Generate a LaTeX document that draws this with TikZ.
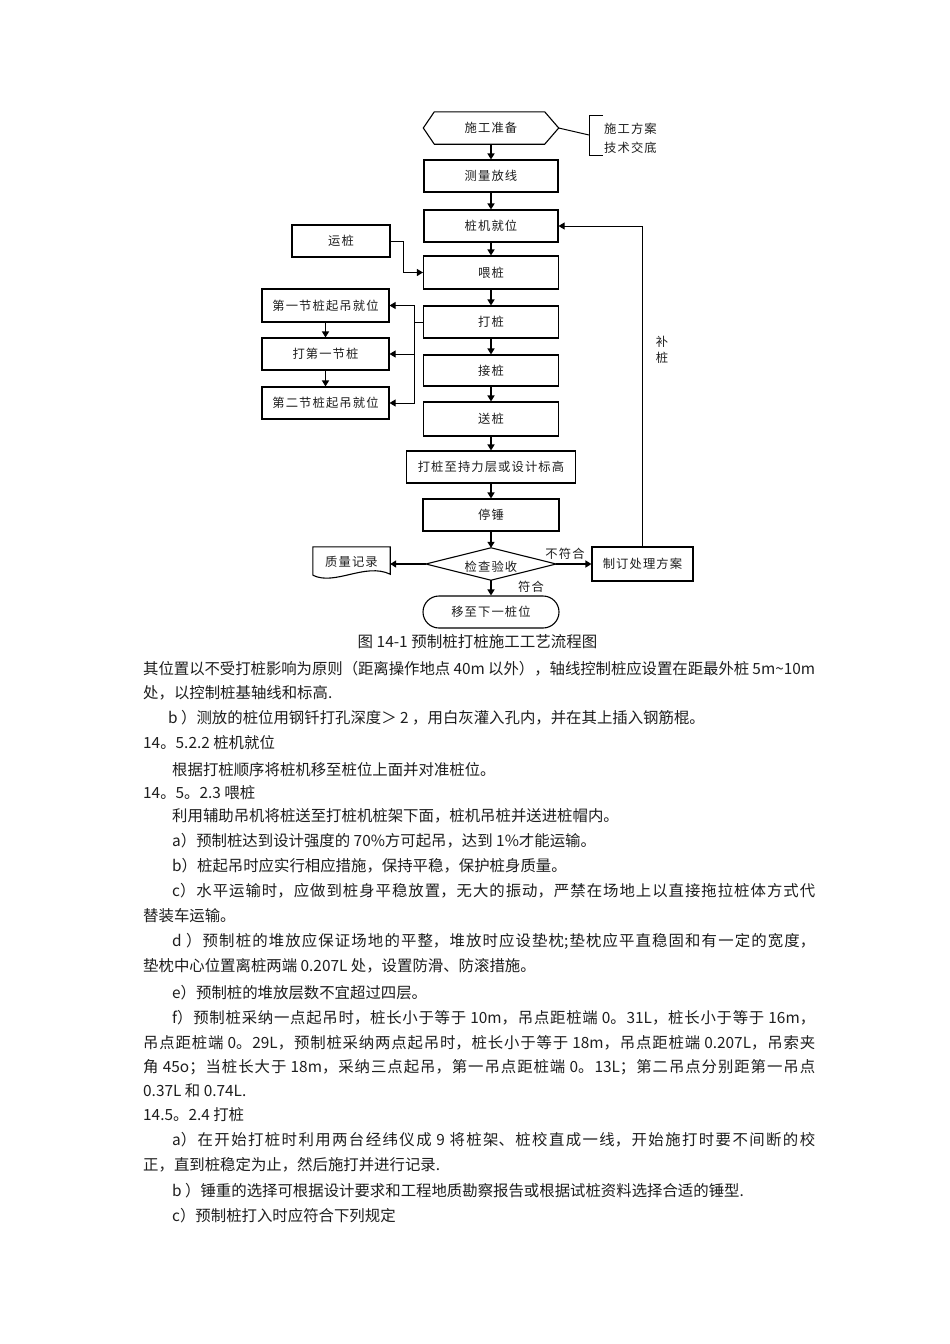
\documentclass[tikz,border=0pt]{standalone}
\usepackage{fontspec}
\setmainfont{Noto Sans CJK SC}
\newfontfamily\fcfam[LetterSpace=9]{Noto Sans CJK SC}
\usetikzlibrary{arrows.meta}
\definecolor{ink}{HTML}{1E1E1E}
\newcommand\fcf{\fcfam\fontsize{12.3}{14}\selectfont}
\newcommand\bodyf{\fontsize{15.4}{18}\selectfont}
\newcommand\jline[3]{\node[body,anchor=base west] at (#1,#2+6) {\parbox[t]{\dimexpr 815pt-#1pt\relax}{\XeTeXlinebreaklocale "zh"\XeTeXlinebreakskip=0pt plus 2pt minus 0.3pt\tolerance=10000\parfillskip=0pt\relax #3}};}
\newcommand\pline[3]{\node[body,anchor=base west] at (#1,#2+6) {#3};}
\begin{document}
\begin{tikzpicture}[x=1pt,y=-1pt,
  box/.style={draw=black,line width=1.1pt,minimum height=32,inner sep=0,font=\fcf,text=ink},
  ghost/.style={minimum height=32,inner sep=0,font=\fcf,text=ink},
  arr/.style={line width=1.5pt,-{Triangle[length=6pt,width=7pt]}},
  tarr/.style={line width=1pt,-{Triangle[length=6pt,width=7pt]}},
  thin/.style={line width=1pt},
  lbl/.style={inner sep=0,font=\fcf,text=ink},
  body/.style={inner sep=0,font=\bodyf,text=ink}]
\useasboundingbox (0,0) rectangle (950,1344);
\fill[white] (0,0) rectangle (950,1344);

% ---------- flowchart nodes ----------
\node[ghost,minimum width=135] (prep) at (491,128) {施工准备};
\draw[line width=1.1pt] (prep.west) -- ([xshift=11]prep.north west) -- ([xshift=-14]prep.north east) -- (prep.east) -- ([xshift=-14]prep.south east) -- ([xshift=11]prep.south west) -- cycle;

\node[lbl,anchor=west] (n1) at (604,129) {施工方案};
\node[lbl,anchor=west] (n2) at (604,148) {技术交底};
\coordinate (bm) at (589,135);
\coordinate (bt) at (589,115);
\coordinate (bb) at (589,155);
\coordinate (btt) at (603,115);
\coordinate (bbt) at (603,155);
\draw[thin] (prep.east) -- (bm);
\draw[thin] (btt) -- (bt) -- (bb) -- (bbt);

\node[box,minimum width=134] (survey) at (491,176) {测量放线};
\node[box,minimum width=134] (pos) at (491,226) {桩机就位};
\node[box,minimum width=135,minimum height=33] (feed) at (491,272.5) {喂桩};
\node[box,minimum width=135] (drive) at (491,322) {打桩};
\node[box,minimum width=135,minimum height=31] (joint) at (491,370.5) {接桩};
\node[box,minimum width=135,minimum height=34] (send) at (491,419) {送桩};
\node[box,minimum width=169] (target) at (491,467) {打桩至持力层或设计标高};
\node[box,minimum width=136] (stop) at (491,515) {停锤};
\node[minimum height=32,minimum width=130,inner sep=0] (chk) at (491,564) {};
\draw[line width=1.1pt] (chk.west) -- (chk.north) -- (chk.east) -- (chk.south) -- cycle;
\node[lbl] (chkt) at (491,567) {检查验收};
\node[box,minimum width=136,rounded corners=16] (move) at (491,612) {移至下一桩位};

\node[box,minimum width=98] (yun) at (341,241) {运桩};
\node[box,minimum width=127,minimum height=33] (L1) at (325.5,305.5) {第一节桩起吊就位};
\node[box,minimum width=127] (L2) at (325.5,354) {打第一节桩};
\node[box,minimum width=127] (L3) at (325.5,403) {第二节桩起吊就位};

\node[ghost,minimum width=77,minimum height=30] (qc) at (351.5,562) {质量记录};
\draw[line width=1.1pt] ([yshift=2]qc.south west) -- (qc.north west) -- (qc.north east) -- ([yshift=3]qc.south east)
  .. controls ([xshift=-25,yshift=15]qc.south east) and ([xshift=22,yshift=-9]qc.south west) .. ([yshift=2]qc.south west);

\node[box,minimum width=101,minimum height=34] (plan) at (642.5,564) {制订处理方案};

% ---------- connectors ----------
\draw[arr] (prep) -- (survey);
\draw[arr] (survey) -- (pos);
\draw[arr] (pos) -- (feed);
\draw[arr] (feed) -- (drive);
\draw[arr] (drive) -- (joint);
\draw[arr] (joint) -- (send);
\draw[arr] (send) -- (target);
\draw[arr] (target) -- (stop);
\draw[arr] (stop) -- (chk.north);
\draw[arr] (chk.south) -- (move);
\draw[arr] (chk.west) -- (chk.west -| qc.east);
\draw[arr] (chk.east) -- (plan.west);
\draw[tarr] (plan.north) |- (pos.east);
\draw[tarr] (yun.east) -- ++(13,0) |- (feed.west);
\draw[thin] (drive.west) -- ++(-8,0) coordinate (br);
\draw[tarr] (br) |- (L1.east);
\draw[tarr] (br) |- (L3.east);
\draw[tarr] (br |- L2.east) -- (L2.east);
\draw[arr] (L1) -- (L2);
\draw[arr] (L2) -- (L3);

\node[lbl] (nf) at (565,554) {不符合};
\node[lbl] (ok) at (531,587) {符合};
\node[lbl] (bu1) at (662,342) {补};
\node[lbl] (bu2) at (662,358) {桩};

\node[inner sep=0,text=ink,font=\fontsize{15.5}{18}\selectfont] (cap) at (477.5,642) {图 14-1 预制桩打桩施工工艺流程图};

% ---------- body text ----------
\jline{143}{668}{其位置以不受打桩影响为原则（距离操作地点 40m 以外），轴线控制桩应设置在距最外桩 5m\textasciitilde 10m}
\pline{143}{692}{处，以控制桩基轴线和标高.}
\pline{168}{717}{b ）测放的桩位用钢钎打孔深度＞ 2 ，用白灰灌入孔内，并在其上插入钢筋棍。}
\pline{143}{742}{14。5.2.2 桩机就位}
\pline{172}{769}{根据打桩顺序将桩机移至桩位上面并对准桩位。}
\pline{143}{792}{14。5。2.3 喂桩}
\pline{172}{815}{利用辅助吊机将桩送至打桩机桩架下面，桩机吊桩并送进桩帽内。}
\pline{172}{840}{a）预制桩达到设计强度的 70\%方可起吊，达到 1\%才能运输。}
\pline{172}{865}{b）桩起吊时应实行相应措施，保持平稳，保护桩身质量。}
\jline{172}{890}{c）水平运输时，应做到桩身平稳放置，无大的振动，严禁在场地上以直接拖拉桩体方式代}
\pline{143}{915}{替装车运输。}
\jline{172}{940}{d ）预制桩的堆放应保证场地的平整，堆放时应设垫枕;垫枕应平直稳固和有一定的宽度，}
\pline{143}{965}{垫枕中心位置离桩两端 0.207L 处，设置防滑、防滚措施。}
\pline{172}{992}{e）预制桩的堆放层数不宜超过四层。}
\jline{172}{1017}{f）预制桩采纳一点起吊时，桩长小于等于 10m，吊点距桩端 0。31L，桩长小于等于 16m，}
\jline{143}{1042}{吊点距桩端 0。29L，预制桩采纳两点起吊时，桩长小于等于 18m，吊点距桩端 0.207L，吊索夹}
\jline{143}{1066}{角 45o；当桩长大于 18m，采纳三点起吊，第一吊点距桩端 0。13L；第二吊点分别距第一吊点}
\pline{143}{1090}{0.37L 和 0.74L.}
\pline{143}{1114}{14.5。2.4 打桩}
\jline{172}{1139}{a）在开始打桩时利用两台经纬仪成 9 将桩架、桩校直成一线，开始施打时要不间断的校}
\pline{143}{1164}{正，直到桩稳定为止，然后施打并进行记录.}
\pline{172}{1190}{b ）锤重的选择可根据设计要求和工程地质勘察报告或根据试桩资料选择合适的锤型.}
\pline{172}{1215}{c）预制桩打入时应符合下列规定}
\end{tikzpicture}
\end{document}
